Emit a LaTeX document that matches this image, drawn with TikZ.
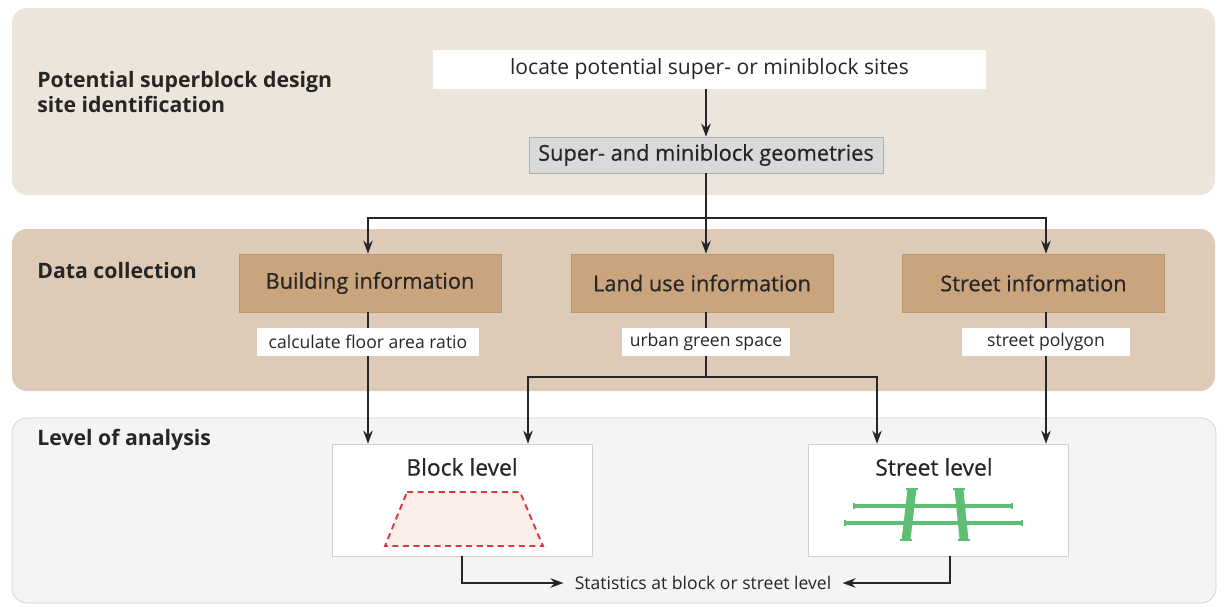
\documentclass[tikz,border=0pt]{standalone}
\usepackage{fontspec}
\setmainfont{Open Sans}
\newfontfamily\mediumfont[FakeBold=0.6]{Open Sans}
\usetikzlibrary{positioning,arrows.meta}
\definecolor{ink}{HTML}{262626}
\definecolor{siteband}{HTML}{ECE5DC}
\definecolor{databand}{HTML}{DDCBB8}
\definecolor{levelband}{HTML}{F4F4F4}
\definecolor{leveledge}{HTML}{CFCFCF}
\definecolor{infofill}{HTML}{C9A47D}
\definecolor{infoedge}{HTML}{BC9872}
\definecolor{geomfill}{HTML}{D9D9D9}
\definecolor{geomedge}{HTML}{ADADAD}
\definecolor{blockred}{HTML}{D83A3F}
\definecolor{blockpink}{HTML}{FBEDE8}
\definecolor{roadgreen}{HTML}{5DBF74}

\begin{document}
\begin{tikzpicture}[
  x=0.02cm, y=-0.02cm,
  every node/.style={text=ink},
  band/.style={rounded corners=0.3cm},
  heading/.style={anchor=west, align=left, inner sep=0pt, font=\bfseries\fontsize{12.1}{14.2}\selectfont},
  task/.style={fill=white, minimum width=11.06cm, minimum height=0.78cm, inner sep=0pt, font=\fontsize{12}{14}\selectfont},
  geom/.style={draw=geomedge, fill=geomfill, minimum width=7.08cm, minimum height=0.72cm, inner sep=0pt, font=\mediumfont\fontsize{12.4}{15}\selectfont},
  info/.style={draw=infoedge, fill=infofill, minimum width=5.24cm, minimum height=1.16cm, inner sep=0pt, font=\mediumfont\fontsize{12.4}{15}\selectfont},
  tag/.style={fill=white, minimum height=0.56cm, inner sep=0pt, font=\fontsize{10}{12}\selectfont},
  level/.style={draw=leveledge, fill=white, minimum width=5.2cm, minimum height=2.24cm, inner sep=0pt},
  leveltitle/.style={font=\mediumfont\fontsize{13}{15}\selectfont},
  flow/.style={draw=ink, line width=1.1pt, -{Stealth[length=2.6mm,width=1.9mm]}},
  link/.style={draw=ink, line width=1.1pt},
  road/.style={draw=roadgreen, line width=2.3pt},
  avenue/.style={draw=roadgreen, line width=5pt},
  roadcap/.style={draw=roadgreen, line width=1pt}
]
\useasboundingbox (0,0) rectangle (1225,606);
% Bands
\fill[band, siteband] (12,8) rectangle (1215,195);
\fill[band, databand] (12,229) rectangle (1215,391);
\draw[band, fill=levelband, draw=leveledge] (12,418) rectangle (1216,603);
\node[heading] (siteh) at (37,92) {Potential superblock design\\site identification};
\node[heading] (datah) at (37,271) {Data collection};
\node[heading] (levelh) at (37,440) {Level of analysis};
% Site identification
\node[task] (locate) at (709.5,69.5) {locate potential super- or miniblock sites};
\node[geom] (geoms) at (706,155) {Super- and miniblock geometries};
\draw[flow] (locate.south -| geoms.north) -- (geoms.north);
% Data collection
\node[info] (bldg) at (370,283) {Building information};
\node[info] (land) at (702,283) {Land use information};
\node[info] (street) at (1033.5,283) {Street information};
\node[tag, minimum width=4.46cm] (farlbl) at (368,342) {calculate floor area ratio};
\node[tag, minimum width=3.38cm] (greenlbl) at (706,342) {urban green space};
\node[tag, minimum width=3.38cm] (polylbl) at (1046,342) {street polygon};
\coordinate (split) at (706,218);
\draw[link] (geoms.south) -- (split);
\draw[flow] (split) -| (bldg.north -| farlbl.north);
\draw[flow] (split) -- (land.north -| split);
\draw[flow] (split) -| (street.north -| polylbl.north);
\draw[link] (bldg.south -| farlbl.north) -- (farlbl.north);
\draw[link] (land.south -| greenlbl.north) -- (greenlbl.north);
\draw[link] (street.south -| polylbl.north) -- (polylbl.north);
% Level of analysis
\node[level] (block) at (462,500) {};
\node[level] (streetlvl) at (938,500) {};
\node[leveltitle] (blocktitle) at (462,467) {Block level};
\node[leveltitle] (streettitle) at (934,467) {Street level};
\draw[blockred, fill=blockpink, line width=1.1pt, dash pattern=on 3.5pt off 2.5pt]
  (407,492) -- (520,492) -- (543,546) -- (385,546) -- cycle;
\foreach \ya/\xa/\xb in {506/854/1012, 523/845/1022} {
  \draw[road] (\xa,\ya) -- (\xb,\ya);
  \draw[roadcap] (\xa,\ya-3) -- (\xa,\ya+3);
  \draw[roadcap] (\xb,\ya-3) -- (\xb,\ya+3);
}
\foreach \xt/\xb in {912/906, 959/964} {
  \draw[avenue] (\xt,489) -- (\xb,540);
  \draw[roadcap] (\xt-6,489) -- (\xt+6,489);
  \draw[roadcap] (\xb-6,540) -- (\xb+6,540);
}
\draw[flow] (farlbl.south) -- (farlbl.south |- block.north);
\coordinate (gsplit) at (706,377);
\draw[link] (greenlbl.south) -- (gsplit);
\draw[flow] (gsplit) -| ([xshift=1.32cm]block.north);
\draw[flow] (gsplit) -| ([xshift=-1.22cm]streetlvl.north);
\draw[flow] (polylbl.south) -- (polylbl.south |- streetlvl.north);
% Statistics
\node[font=\fontsize{10}{12}\selectfont, inner xsep=0.22cm] (stats) at (703,583) {Statistics at block or street level};
\draw[flow] (block.south) |- (stats.west);
\draw[flow] ([xshift=0.24cm]streetlvl.south) |- (stats.east);
\end{tikzpicture}
\end{document}
